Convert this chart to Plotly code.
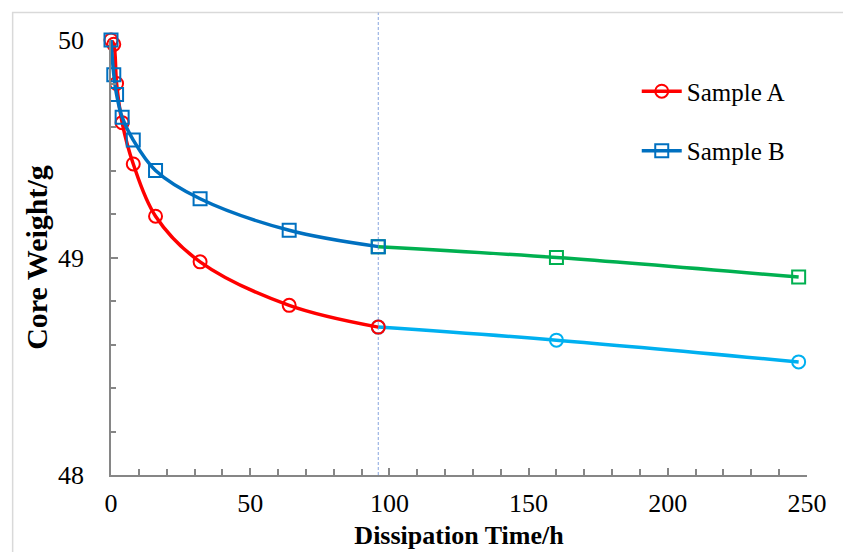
import plotly.graph_objects as go

# ---- data ----
time_early = [0, 1, 2, 4, 8, 16, 32, 64, 96]
time_late = [96, 160, 247]
sample_a_early = [50.00, 49.98, 49.80, 49.62, 49.43, 49.19, 48.98, 48.78, 48.68]
sample_a_late = [48.68, 48.62, 48.52]
sample_b_early = [50.00, 49.84, 49.75, 49.645, 49.54, 49.40, 49.27, 49.125, 49.05]
sample_b_late = [49.05, 49.00, 48.91]
divider_time = 96
x_ticks = [0, 50, 100, 150, 200, 250]
y_ticks = [48, 49, 50]

RED = "#FF0000"
BLUE = "#0070C0"
GREEN = "#00B050"
LBLUE = "#00B0F0"
FONT = "Liberation Serif"

W, H = 843, 552
L, R, T, B = 110.5, 35.5, 39.5, 77
pw = W - L - R
ph = H - T - B

fig = go.Figure()

def add(x, y, color, symbol, name, show, group):
    fig.add_trace(go.Scatter(
        x=x, y=y, mode="lines+markers", name=name, showlegend=show,
        legendgroup=group,
        line=dict(color=color, width=3.5, shape="spline", smoothing=1),
        marker=dict(symbol=symbol, size=13, color=color, line=dict(width=2, color=color)),
        cliponaxis=False,
    ))

add(time_late, sample_a_late, LBLUE, "circle-open", "Sample A late", False, "a2")
add(time_late, sample_b_late, GREEN, "square-open", "Sample B late", False, "b2")
add(time_early, sample_a_early, RED, "circle-open", "Sample A", True, "a")
add(time_early, sample_b_early, BLUE, "square-open", "Sample B", True, "b")

# frame around chart area (light gray)
fx0 = (12 - L) / pw
fy1 = 1 + (T - 12) / ph
fig.add_shape(type="rect", xref="paper", yref="paper", x0=fx0, x1=1.3, y0=-0.5, y1=fy1,
              line=dict(color="#D9D9D9", width=1.5), fillcolor="rgba(0,0,0,0)", layer="below")
# dashed divider
fig.add_shape(type="line", xref="x", yref="paper", x0=divider_time, x1=divider_time, y0=0, y1=fy1,
              line=dict(color="#86A4DE", width=1, dash="3px,2px"), layer="below")

fig.update_layout(
    width=W, height=H,
    margin=dict(l=L, r=R, t=T, b=B, autoexpand=False),
    paper_bgcolor="white", plot_bgcolor="white",
    font=dict(family=FONT, size=25, color="#000000"),
    showlegend=True,
    legend=dict(x=(637 - L) / pw, y=1 - (68 - T) / ph, xanchor="left", yanchor="top",
                bgcolor="rgba(0,0,0,0)", borderwidth=0, traceorder="grouped",
                tracegroupgap=24, font=dict(family=FONT, size=25, color="#000000"),
                itemwidth=40),
    xaxis=dict(
        range=[0, 250], tickvals=x_ticks, ticktext=[str(v) for v in x_ticks],
        showgrid=False, zeroline=False, showline=True, linecolor="#868686", linewidth=1.5,
        ticks="inside", ticklen=7, tickwidth=1.5, tickcolor="#868686",
        minor=dict(dtick=10, ticks="inside", ticklen=6, tickwidth=1.5, tickcolor="#868686"),
        tickfont=dict(family=FONT, size=26), ticklabelstandoff=4,
        title=dict(text="<b>Dissipation Time/h</b>", font=dict(family=FONT, size=26), standoff=9),
    ),
    yaxis=dict(
        range=[48, 50], tickvals=y_ticks, ticktext=[str(v) for v in y_ticks],
        showgrid=False, zeroline=False, showline=True, linecolor="#868686", linewidth=1.5,
        ticks="inside", ticklen=7, tickwidth=1.5, tickcolor="#868686",
        minor=dict(dtick=0.2, ticks="inside", ticklen=5, tickwidth=1.5, tickcolor="#868686"),
        tickfont=dict(family=FONT, size=26), ticklabelstandoff=20,
        title=dict(text="<b>Core Weight/g</b>", font=dict(family=FONT, size=30), standoff=2),
    ),
)

fig.write_html("out.html")
